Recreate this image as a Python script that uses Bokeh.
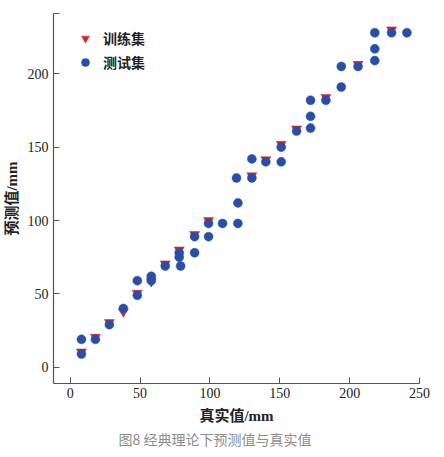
from bokeh.plotting import figure
from bokeh.models import Range1d, FixedTicker, Legend, LegendItem, Title
from bokeh.embed import file_html
from bokeh.resources import INLINE

# training set (red inverted triangles)
train_true = [8, 18, 28, 38, 48, 58, 68, 78, 89, 99, 130, 140, 151, 162, 183, 206, 230]
train_pred = [10.5, 20.5, 30.5, 38, 50.5, 58.5, 70.5, 80, 90.5, 100, 130.5, 141.5, 152, 162.5, 184, 206.5, 230]

# test set (blue circles)
test_true = [8, 8, 18, 28, 38, 48, 48, 58, 58, 68, 79, 78, 78, 89, 89, 99, 99, 109, 120, 120,
             119, 130, 130, 140, 151, 151, 162, 172, 172, 172, 183, 194, 194, 206,
             218, 218, 218, 230, 241]
test_pred = [19, 9, 19, 29, 40, 49, 59, 62, 59, 69, 69, 78, 75, 78, 89, 89, 98, 98, 98, 112,
             129, 129, 142, 140, 140, 150, 161, 163, 171, 182, 182, 191, 205, 205,
             209, 217, 228, 228, 228]

x_ticks = [0, 50, 100, 150, 200, 250]
y_ticks = [0, 50, 100, 150, 200]
y_top = 241

RED = "#d8232a"
BLUE = "#2a4ea6"
SERIF = "'Liberation Serif', 'Noto Sans CJK SC'"
CJK = "'Noto Sans CJK SC'"

p = figure(width=444, height=457, output_backend="svg", toolbar_location=None,
           x_range=Range1d(-12, 250), y_range=Range1d(-11.1, y_top + 0.1),
           min_border_left=53, min_border_right=25, min_border_top=13, min_border_bottom=74)
p.outline_line_color = None
p.xgrid.visible = False
p.ygrid.visible = False
p.background_fill_color = "white"

tri = p.scatter(train_true, train_pred, marker="inverted_triangle", size=10,
                fill_color=RED, line_color=RED, line_width=0.5)
cir = p.scatter(test_true, test_pred, marker="circle", size=9,
                fill_color=BLUE, line_color=BLUE, line_width=0.5)

for ax in (p.xaxis[0], p.yaxis[0]):
    ax.axis_line_color = "#555555"
    ax.axis_line_width = 1.2
    ax.major_tick_line_color = "#555555"
    ax.major_tick_in = 6
    ax.major_tick_out = 0
    ax.minor_tick_line_color = None
    ax.major_label_text_font = "Liberation Serif"
    ax.major_label_text_font_size = "14px"
    ax.major_label_text_color = "#222222"
    ax.axis_label_text_font = SERIF
    ax.axis_label_text_font_size = "15px"
    ax.axis_label_text_font_style = "bold"
    ax.axis_label_text_color = "#222222"

p.xaxis.ticker = FixedTicker(ticks=x_ticks)
p.yaxis.ticker = FixedTicker(ticks=y_ticks + [y_top])
p.yaxis.major_label_overrides = {y_top: ""}
p.xaxis.axis_label = "真实值/mm"
p.yaxis.axis_label = "预测值/mm"
p.xaxis.major_label_standoff = 4
p.yaxis.major_label_standoff = 5
p.xaxis.axis_label_standoff = 7
p.yaxis.axis_label_standoff = 5

legend = Legend(items=[LegendItem(label="训练集", renderers=[tri]),
                       LegendItem(label="测试集", renderers=[cir])],
                location=(22, 311), margin=0, padding=0, spacing=4,
                label_standoff=8, glyph_width=20, glyph_height=20, label_height=20,
                border_line_color=None, background_fill_alpha=0,
                label_text_font=CJK, label_text_font_size="14px",
                label_text_font_style="bold", label_text_color="#222222")
p.add_layout(legend)

cap = Title(text="图8 经典理论下预测值与真实值", align="left", offset=65,
            text_font=CJK, text_font_size="14px", text_font_style="normal",
            text_color="#8c8c8c", standoff=0)
p.add_layout(cap, "below")

open("out.html", "w").write(file_html(p, INLINE))
